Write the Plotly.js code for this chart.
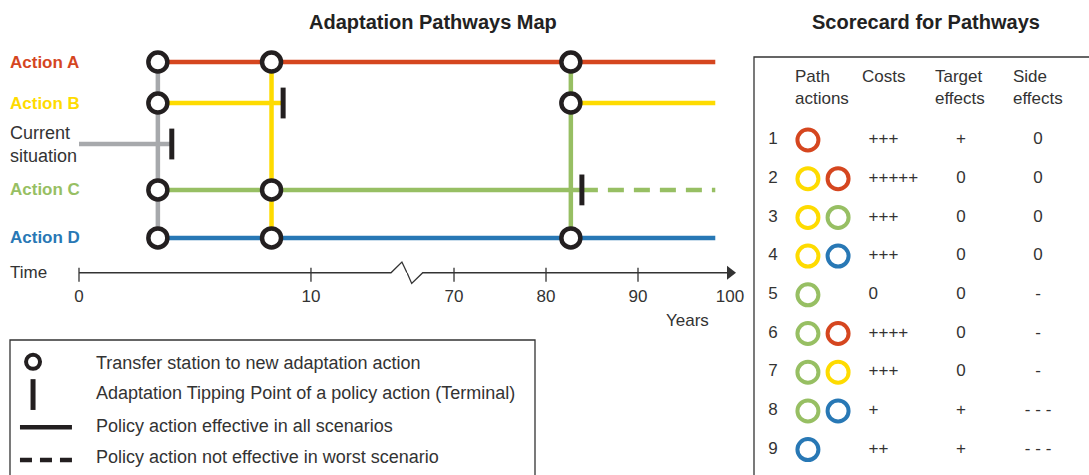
<!DOCTYPE html>
<html><head><meta charset="utf-8">
<script src="https://cdn.plot.ly/plotly-3.0.1.min.js"></script>
<style>html,body{margin:0;padding:0;background:#fff}#chart{width:1089px;height:475px}</style>
</head><body><div id="chart"></div>
<script>
// ================= DATA =================
// Pathways map: actions (lanes) and colours
const actions = ['Action A', 'Action B', 'Current situation', 'Action C', 'Action D'];
const actionColors = ['#d5461f', '#fedb00', '#a7a9ac', '#97bf63', '#2878b5'];

// Effective periods of each policy action (years)
const segAction = ['Current situation', 'Action A', 'Action B', 'Action B', 'Action C', 'Action C', 'Action D'];
const segStart  = [0,    3.4,  3.4, 82.7, 3.4,  83.9, 3.4];
const segEnd    = [4.0,  98.4, 8.8, 98.4, 83.9, 98.4, 98.4];
const segDashed = [false, false, false, false, false, true, false];

// Transfers (vertical connectors), by the action one leaves
const transferAction = ['Current situation', 'Action B', 'Action C'];
const transferYear   = [3.4, 8.3, 82.7];
const transferFrom   = ['Action A', 'Action A', 'Action A'];
const transferTo     = ['Action D', 'Action D', 'Action D'];

// Transfer stations
const stationAction = ['Action A', 'Action A', 'Action A', 'Action B', 'Action B', 'Action C', 'Action C', 'Action D', 'Action D', 'Action D'];
const stationYear   = [3.4, 8.3, 82.7, 3.4, 82.7, 3.4, 8.3, 3.4, 8.3, 82.7];

// Adaptation tipping points (terminals)
const tipAction = ['Current situation', 'Action B', 'Action C'];
const tipYear   = [4.0, 8.8, 83.9];

// Time axis
const tickYearsLeft  = [0, 10];
const tickYearsRight = [70, 80, 90, 100];
const tickMarkYears  = [0, 10, 70, 80, 90];
const timeEnd = 100;
const breakLeft  = [13.45, 13.92];   // zig-zag axis break, left part
const breakRight = [65.4, 66.6];     // zig-zag axis break, right part

// Scorecard
const pathwayNo = [1, 2, 3, 4, 5, 6, 7, 8, 9];
const pathwayActions = [
  ['Action A'], ['Action B', 'Action A'], ['Action B', 'Action C'], ['Action B', 'Action D'],
  ['Action C'], ['Action C', 'Action A'], ['Action C', 'Action B'], ['Action C', 'Action D'], ['Action D']
];
const costs        = ['+++', '+++++', '+++', '+++', '0', '++++', '+++', '+', '++'];
const targetEffect = ['+', '0', '0', '0', '0', '0', '0', '+', '+'];
const sideEffect   = ['0', '0', '0', '0', '-', '-', '-', '- - -', '- - -'];
const scoreHeaders = ['Path<br>actions', 'Costs', 'Target<br>effects', 'Side<br>effects'];

// Key
const keyLabels = [
  'Transfer station to new adaptation action',
  'Adaptation Tipping Point of a policy action (Terminal)',
  'Policy action effective in all scenarios',
  'Policy action not effective in worst scenario'
];

// ================= LAYOUT CONFIG =================
const W = 1089, H = 475;
const FONT = 'Liberation Sans, Arial, Helvetica, sans-serif';
const TXT = '#333333', INK = '#231f20';
const lane = {'Action A': 0, 'Action B': 1, 'Current situation': 2, 'Action C': 3.12, 'Action D': 4.29, 'Time': 5.14};
const R1 = [0, 14.14], R2 = [64.89, 100];
const zig = 0.26;
const colorOf = a => actionColors[actions.indexOf(a)];
const scoreCol = {num: 0.57, a1: 1.61, a2: 2.51, costs: 3.42, target: 6.18, side: 8.48};
const headerX = [1.16, 3.16, 5.34, 7.67];
const headerTop = -0.93;
const key = {sym: 4.5, line: [1.95, 12.1], text: 16.8};

const traces = [];
function pieces(a, b) {
  const out = [];
  if (a < R1[1]) out.push({ax: 'x', x0: Math.max(a, R1[0]), x1: Math.min(b, R1[1])});
  if (b > R2[0]) out.push({ax: 'x2', x0: Math.max(a, R2[0]), x1: Math.min(b, R2[1])});
  return out;
}
function axOf(x) { return x <= R1[1] ? 'x' : 'x2'; }

// horizontal lines
segAction.forEach((a, i) => {
  pieces(segStart[i], segEnd[i]).forEach(p => {
    traces.push({type: 'scatter', mode: 'lines', xaxis: p.ax, yaxis: 'y',
      x: [p.x0, p.x1], y: [lane[a], lane[a]], hoverinfo: 'skip', showlegend: false,
      line: {color: colorOf(a), width: 4.5, dash: segDashed[i] ? '16px,10px' : 'solid'}});
  });
});
// vertical transfers
transferAction.forEach((a, i) => {
  traces.push({type: 'scatter', mode: 'lines', xaxis: axOf(transferYear[i]), yaxis: 'y',
    x: [transferYear[i], transferYear[i]], y: [lane[transferFrom[i]], lane[transferTo[i]]],
    hoverinfo: 'skip', showlegend: false, line: {color: colorOf(a), width: 4.5}});
});
// terminals
['x', 'x2'].forEach(ax => {
  const idx = tipYear.map((y, i) => i).filter(i => axOf(tipYear[i]) === ax);
  traces.push({type: 'scatter', mode: 'markers', xaxis: ax, yaxis: 'y', cliponaxis: false,
    x: idx.map(i => tipYear[i]), y: idx.map(i => lane[tipAction[i]]), hoverinfo: 'skip', showlegend: false,
    marker: {symbol: 'line-ns-open', size: 22, color: INK, line: {color: INK, width: 5}}});
});
// stations
['x', 'x2'].forEach(ax => {
  const idx = stationYear.map((y, i) => i).filter(i => axOf(stationYear[i]) === ax);
  traces.push({type: 'scatter', mode: 'markers', xaxis: ax, yaxis: 'y', cliponaxis: false,
    x: idx.map(i => stationYear[i]), y: idx.map(i => lane[stationAction[i]]), hoverinfo: 'skip', showlegend: false,
    marker: {symbol: 'circle', size: 19, color: '#ffffff', line: {color: INK, width: 4.5}}});
});
// time axis line with break and arrow
const T = lane['Time'];
traces.push({type: 'scatter', mode: 'lines', xaxis: 'x', yaxis: 'y', hoverinfo: 'skip', showlegend: false,
  x: [R1[0], breakLeft[0], breakLeft[1], R1[1]], y: [T, T, T - zig, T], line: {color: TXT, width: 1.3}});
traces.push({type: 'scatter', mode: 'lines', xaxis: 'x2', yaxis: 'y', hoverinfo: 'skip', showlegend: false,
  x: [R2[0], breakRight[0], breakRight[1], timeEnd], y: [T, T + zig, T, T], line: {color: TXT, width: 1.3}});
traces.push({type: 'scatter', mode: 'markers', xaxis: 'x2', yaxis: 'y', hoverinfo: 'skip', showlegend: false, cliponaxis: false,
  x: [timeEnd], y: [T], marker: {symbol: 'triangle-right', size: 12, color: TXT}});
['x', 'x2'].forEach(ax => {
  const v = tickMarkYears.filter(y => axOf(y) === ax);
  traces.push({type: 'scatter', mode: 'markers', xaxis: ax, yaxis: 'y', hoverinfo: 'skip', showlegend: false, cliponaxis: false,
    x: v, y: v.map(() => T + 0.05), marker: {symbol: 'line-ns-open', size: 10, color: TXT, line: {color: TXT, width: 1.3}}});
});

// ---- scorecard ----
const ringX = [], ringY = [], ringC = [];
pathwayActions.forEach((arr, r) => arr.forEach((a, k) => {
  ringX.push(k === 0 ? scoreCol.a1 : scoreCol.a2); ringY.push(pathwayNo[r]); ringC.push(colorOf(a));
}));
traces.push({type: 'scatter', mode: 'markers', xaxis: 'x3', yaxis: 'y3', hoverinfo: 'skip', showlegend: false, cliponaxis: false,
  x: ringX, y: ringY, marker: {symbol: 'circle-open', size: 21, color: ringC, line: {color: ringC, width: 4}}});
const tf = {family: FONT, size: 17, color: TXT};
const kf = {family: FONT, size: 18, color: TXT};
traces.push({type: 'scatter', mode: 'text', xaxis: 'x3', yaxis: 'y3', hoverinfo: 'skip', showlegend: false, cliponaxis: false,
  x: pathwayNo.map(() => scoreCol.num), y: pathwayNo, text: pathwayNo.map(String), textposition: 'middle center', textfont: tf});
traces.push({type: 'scatter', mode: 'text', xaxis: 'x3', yaxis: 'y3', hoverinfo: 'skip', showlegend: false, cliponaxis: false,
  x: pathwayNo.map(() => scoreCol.costs), y: pathwayNo, text: costs, textposition: 'middle right', textfont: tf});
traces.push({type: 'scatter', mode: 'text', xaxis: 'x3', yaxis: 'y3', hoverinfo: 'skip', showlegend: false, cliponaxis: false,
  x: pathwayNo.map(() => scoreCol.target), y: pathwayNo, text: targetEffect, textposition: 'middle center', textfont: tf});
traces.push({type: 'scatter', mode: 'text', xaxis: 'x3', yaxis: 'y3', hoverinfo: 'skip', showlegend: false, cliponaxis: false,
  x: pathwayNo.map(() => scoreCol.side), y: pathwayNo, text: sideEffect, textposition: 'middle center', textfont: tf});

// ---- key ----
traces.push({type: 'scatter', mode: 'markers', xaxis: 'x4', yaxis: 'y4', hoverinfo: 'skip', showlegend: false, cliponaxis: false,
  x: [key.sym], y: [0], marker: {symbol: 'circle', size: 14, color: '#fff', line: {color: INK, width: 4}}});
traces.push({type: 'scatter', mode: 'markers', xaxis: 'x4', yaxis: 'y4', hoverinfo: 'skip', showlegend: false, cliponaxis: false,
  x: [key.sym], y: [1], marker: {symbol: 'line-ns-open', size: 22, color: INK, line: {color: INK, width: 5}}});
traces.push({type: 'scatter', mode: 'lines', xaxis: 'x4', yaxis: 'y4', hoverinfo: 'skip', showlegend: false,
  x: key.line, y: [2, 2], line: {color: INK, width: 4.5}});
traces.push({type: 'scatter', mode: 'lines', xaxis: 'x4', yaxis: 'y4', hoverinfo: 'skip', showlegend: false,
  x: key.line, y: [3, 3], line: {color: INK, width: 4.5, dash: '12px,8px'}});
traces.push({type: 'scatter', mode: 'text', xaxis: 'x4', yaxis: 'y4', hoverinfo: 'skip', showlegend: false, cliponaxis: false,
  x: keyLabels.map(() => key.text), y: [0.07, 1.0, 2.0, 2.95], text: keyLabels, textposition: 'middle right', textfont: kf});

// ---- annotations ----
const ann = [];
actions.forEach((a, i) => {
  const cur = a === 'Current situation';
  ann.push({xref: 'paper', yref: 'y', x: 8 / W, y: lane[a], xanchor: 'left', yanchor: 'middle', showarrow: false, align: 'left',
    text: cur ? 'Current<br>situation' : '<b>' + a + '</b>',
    font: {family: FONT, size: cur ? 18 : 17, color: cur ? TXT : actionColors[i]}});
});
ann.push({xref: 'paper', yref: 'y', x: 8 / W, y: T, xanchor: 'left', yanchor: 'middle', showarrow: false, text: 'Time', font: tf});
ann.push({xref: 'paper', yref: 'paper', x: 687 / W, y: 1 - 320 / H, xanchor: 'center', yanchor: 'middle', showarrow: false, text: 'Years', font: tf});
ann.push({xref: 'paper', yref: 'paper', x: 433 / W, y: 1 - 22 / H, xanchor: 'center', yanchor: 'middle', showarrow: false,
  text: '<b>Adaptation Pathways Map</b>', font: {family: FONT, size: 20, color: '#222'}});
ann.push({xref: 'paper', yref: 'paper', x: 926 / W, y: 1 - 22 / H, xanchor: 'center', yanchor: 'middle', showarrow: false,
  text: '<b>Scorecard for Pathways</b>', font: {family: FONT, size: 20, color: '#222'}});
scoreHeaders.forEach((h, i) => {
  ann.push({xref: 'x3', yref: 'y3', x: headerX[i], y: headerTop, xanchor: 'left', yanchor: 'top', showarrow: false, align: 'left', text: h, font: tf});
});

const hidden = {visible: false, showgrid: false, zeroline: false};
const layout = {
  width: W, height: H, margin: {l: 0, r: 0, t: 0, b: 0}, paper_bgcolor: '#fff', plot_bgcolor: 'rgba(0,0,0,0)',
  font: {family: FONT, color: TXT}, showlegend: false,
  xaxis: {domain: [79 / W, 407 / W], range: R1, anchor: 'free', position: 1 - 272.7 / H, tickmode: 'array', tickvals: tickYearsLeft,
    ticks: '', showline: false, showgrid: false, zeroline: false, tickfont: tf, ticklabelstandoff: 11},
  xaxis2: {domain: [407 / W, 730 / W], range: R2, anchor: 'free', position: 1 - 272.7 / H, tickmode: 'array', tickvals: tickYearsRight,
    ticks: '', showline: false, showgrid: false, zeroline: false, tickfont: tf, ticklabelstandoff: 11},
  yaxis: Object.assign({domain: [1 - 300 / H, 1 - 40 / H], range: [5.805, -0.537], anchor: 'x'}, hidden),
  xaxis3: Object.assign({domain: [754 / W, 1], range: [0, 10], anchor: 'y3'}, hidden),
  yaxis3: Object.assign({domain: [0, 1 - 57 / H], range: [9.656, -1.145], anchor: 'x3'}, hidden),
  xaxis4: Object.assign({domain: [10 / W, 522 / W], range: [0, 100], anchor: 'y4'}, hidden),
  yaxis4: Object.assign({domain: [0, 1 - 337 / H], range: [3.46, -0.76], anchor: 'x4'}, hidden),
  shapes: [
    {type: 'rect', xref: 'paper', yref: 'paper', x0: 10 / W, x1: 535 / W, y0: -0.05, y1: 1 - 340 / H, line: {color: '#333', width: 1.3}},
    {type: 'rect', xref: 'paper', yref: 'paper', x0: 754 / W, x1: 1.05, y0: -0.05, y1: 1 - 57 / H, line: {color: '#333', width: 1.3}}
  ],
  annotations: ann
};
Plotly.newPlot('chart', traces, layout, {staticPlot: true, displayModeBar: false});
</script></body></html>
